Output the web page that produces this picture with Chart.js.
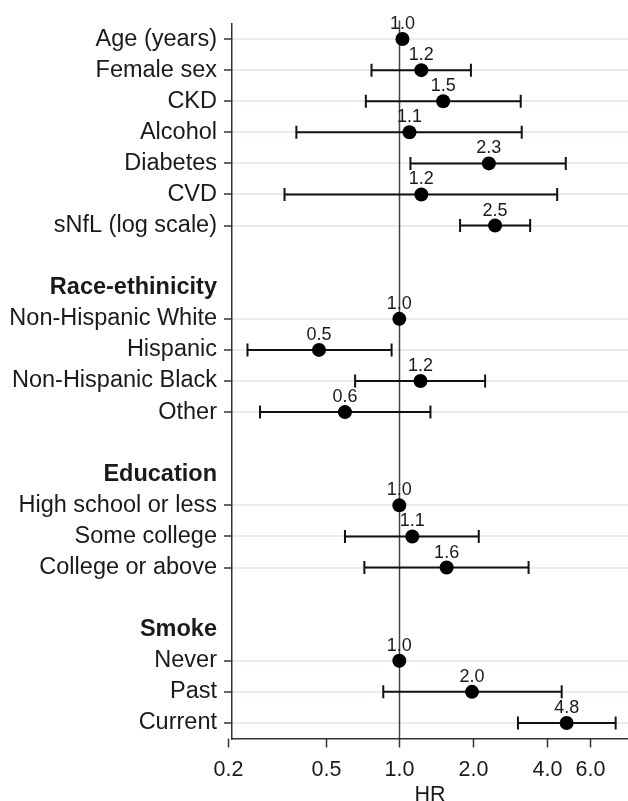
<!DOCTYPE html>
<html>
<head>
<meta charset="utf-8">
<title>Hazard ratios</title>
<script src="https://cdn.jsdelivr.net/npm/chart.js@4.4.1/dist/chart.umd.min.js"></script>
<style>
  html, body { margin: 0; padding: 0; background: #ffffff; }
  canvas { display: block; }
</style>
</head>
<body>
<canvas id="forest" width="628" height="801"></canvas>
<script>
// Rows from top to bottom; empty strings are spacer rows.
const rowLabels = [
  'Age (years)', 'Female sex', 'CKD', 'Alcohol', 'Diabetes', 'CVD', 'sNfL (log scale)',
  '',
  'Race-ethinicity', 'Non-Hispanic White', 'Hispanic', 'Non-Hispanic Black', 'Other',
  '',
  'Education', 'High school or less', 'Some college', 'College or above',
  '',
  'Smoke', 'Never', 'Past', 'Current'
];
const headerLabels = ['Race-ethinicity', 'Education', 'Smoke'];

// Hazard ratios and 95% confidence limits (null = no estimate / reference group)
const hazardRatio = [1.03, 1.23, 1.51, 1.10, 2.32, 1.23, 2.46, null,
  null, 1.00, 0.47, 1.22, 0.60, null,
  null, 1.00, 1.13, 1.56, null,
  null, 1.00, 1.98, 4.82];
const ciLower = [null, 0.77, 0.73, 0.38, 1.11, 0.34, 1.77, null,
  null, null, 0.24, 0.66, 0.27, null,
  null, null, 0.60, 0.72, null,
  null, null, 0.86, 3.05];
const ciUpper = [null, 1.96, 3.13, 3.16, 4.78, 4.41, 3.42, null,
  null, null, 0.93, 2.24, 1.34, null,
  null, null, 2.11, 3.37, null,
  null, null, 4.60, 7.64];

const xTickValues = [0.2, 0.5, 1.0, 2.0, 4.0, 6.0];
const xTitle = 'HR';
const referenceHR = 1.0;
const xRange = [0.2075, 8.58];

const FONT = '"Liberation Sans", Arial, sans-serif';
const INK = '#1a1a1a';
const AXIS = '#333333';
const GRID = '#e6edf0';

const isDataRow = (i) => rowLabels[i] !== '' && !headerLabels.includes(rowLabels[i]);

const points = [];
hazardRatio.forEach((v, i) => { if (v !== null) points.push({ x: v, y: i }); });

const forestPlugin = {
  id: 'forest',
  beforeDatasetsDraw(chart) {
    const { ctx, chartArea, scales: { x, y } } = chart;
    ctx.save();
    // reference line at HR = 1
    const rx = Math.round(x.getPixelForValue(referenceHR)) + 0.5;
    ctx.strokeStyle = '#444444';
    ctx.lineWidth = 1.5;
    ctx.beginPath();
    ctx.moveTo(rx, chartArea.top - 3);
    ctx.lineTo(rx, chartArea.bottom);
    ctx.stroke();
    // confidence intervals with caps
    ctx.strokeStyle = '#111111';
    ctx.lineWidth = 2;
    for (let i = 0; i < rowLabels.length; i++) {
      if (ciLower[i] === null || ciUpper[i] === null) continue;
      const x1 = x.getPixelForValue(ciLower[i]);
      const x2 = x.getPixelForValue(ciUpper[i]);
      const py = y.getPixelForValue(i);
      ctx.beginPath();
      ctx.moveTo(x1, py); ctx.lineTo(x2, py);
      ctx.moveTo(x1, py - 6.5); ctx.lineTo(x1, py + 6.5);
      ctx.moveTo(x2, py - 6.5); ctx.lineTo(x2, py + 6.5);
      ctx.stroke();
    }
    ctx.restore();
  },
  afterDatasetsDraw(chart) {
    const { ctx, scales: { x, y } } = chart;
    ctx.save();
    ctx.fillStyle = INK;
    ctx.font = '18px ' + FONT;
    ctx.textAlign = 'center';
    ctx.textBaseline = 'alphabetic';
    for (let i = 0; i < rowLabels.length; i++) {
      if (hazardRatio[i] === null) continue;
      ctx.fillText(hazardRatio[i].toFixed(1), x.getPixelForValue(hazardRatio[i]), y.getPixelForValue(i) - 10);
    }
    ctx.restore();
  },
  afterDraw(chart) {
    const { ctx, chartArea, scales: { x } } = chart;
    ctx.save();
    ctx.strokeStyle = AXIS;
    ctx.lineWidth = 1.5;
    ctx.fillStyle = INK;
    ctx.font = '21.5px ' + FONT;
    ctx.textAlign = 'center';
    ctx.textBaseline = 'middle';
    xTickValues.forEach((v) => {
      const px = Math.round(x.getPixelForValue(v)) + 0.5;
      ctx.beginPath();
      ctx.moveTo(px, chartArea.bottom);
      ctx.lineTo(px, chartArea.bottom + 9);
      ctx.stroke();
      ctx.fillText(v.toFixed(1), px, chartArea.bottom + 32);
    });
    ctx.textBaseline = 'alphabetic';
    ctx.fillText(xTitle, (chartArea.left + chartArea.right) / 2, chartArea.bottom + 62);
    ctx.restore();
  }
};

new Chart(document.getElementById('forest'), {
  type: 'scatter',
  data: {
    datasets: [{
      data: points,
      pointRadius: 7,
      pointHoverRadius: 7,
      pointBackgroundColor: '#000000',
      pointBorderWidth: 0,
      clip: false
    }]
  },
  options: {
    responsive: false,
    animation: false,
    events: [],
    layout: { autoPadding: false, padding: { top: 23.5, right: 0, bottom: 0, left: 0 } },
    plugins: { legend: { display: false }, tooltip: { enabled: false } },
    scales: {
      x: {
        type: 'logarithmic',
        min: xRange[0],
        max: xRange[1],
        grid: { display: false, drawTicks: false },
        ticks: { display: false },
        border: { display: true, color: AXIS, width: 1.5 },
        afterFit(scale) { scale.height = 62.5; }
      },
      y: {
        type: 'linear',
        reverse: true,
        min: -0.5,
        max: rowLabels.length - 0.5,
        afterBuildTicks(scale) {
          scale.ticks = rowLabels.map((_, i) => ({ value: i }));
        },
        afterFit(scale) { scale.width = 232; },
        grid: {
          drawOnChartArea: true,
          lineWidth: 2,
          color: (c) => (c.tick && isDataRow(c.tick.value)) ? GRID : 'rgba(0,0,0,0)',
          tickColor: (c) => (c.tick && isDataRow(c.tick.value)) ? AXIS : 'rgba(0,0,0,0)',
          tickLength: 8,
          tickWidth: 1.5
        },
        border: { display: true, color: AXIS, width: 1.5 },
        ticks: {
          autoSkip: false,
          padding: 7,
          color: INK,
          callback: (v) => rowLabels[v] ?? '',
          font: (c) => ({
            family: FONT,
            size: 23.5,
            weight: (c.tick && headerLabels.includes(rowLabels[c.tick.value])) ? 'bold' : 'normal'
          })
        }
      }
    }
  },
  plugins: [forestPlugin]
});
</script>
</body>
</html>
